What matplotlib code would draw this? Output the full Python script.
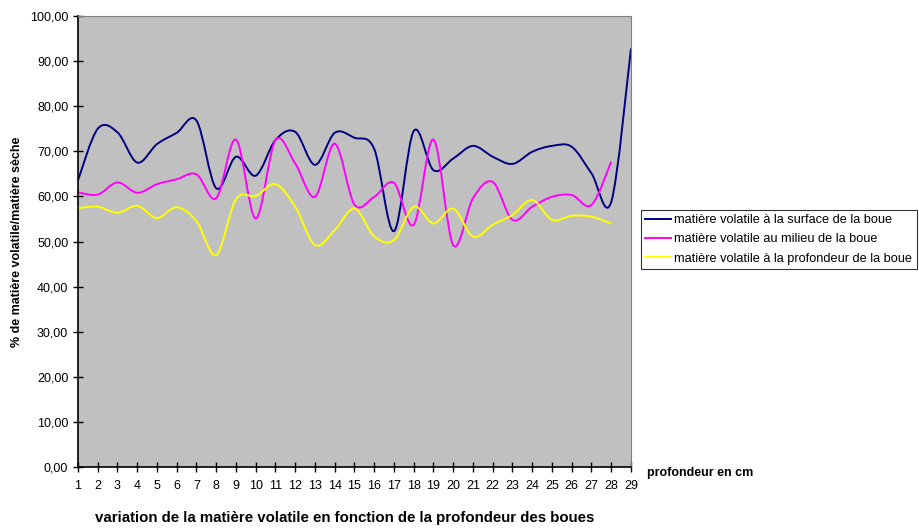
import numpy as np
import matplotlib.pyplot as plt
from matplotlib.path import Path
from matplotlib.patches import PathPatch
from matplotlib.lines import Line2D

plt.rcParams['font.family'] = ['Liberation Sans', 'DejaVu Sans']

profondeur = list(range(1, 30))
surface = [63.6, 75.0, 74.2, 67.5, 71.6, 74.1, 76.8, 61.8, 68.8, 64.6, 72.5, 74.3, 67.0, 74.1, 73.0,
           70.5, 52.3, 74.5, 65.8, 68.4, 71.2, 68.8, 67.2, 69.9, 71.2, 71.0, 65.1, 58.8, 92.8]
milieu = [60.9, 60.4, 63.1, 60.8, 62.7, 63.8, 64.9, 59.6, 72.6, 55.1, 72.5, 67.3, 59.9, 71.7, 58.2,
          59.9, 63.0, 53.7, 72.6, 49.2, 59.6, 63.2, 54.8, 57.7, 59.9, 60.3, 58.1, 67.7]
fond = [57.4, 57.7, 56.4, 57.9, 55.2, 57.6, 54.5, 47.0, 59.4, 60.1, 62.7, 57.7, 49.2, 52.5, 57.3,
        51.1, 50.3, 57.7, 54.0, 57.3, 51.1, 53.7, 55.9, 59.2, 54.8, 55.7, 55.5, 54.0]

series = [
    ("matière volatile à la surface de la boue", surface, "#000080"),
    ("matière volatile au milieu de la boue", milieu, "#FF00FF"),
    ("matière volatile à la profondeur de la boue", fond, "#FFFF00"),
]


def courbe_lisse(x, y):
    # courbe de Bezier type "lissage" Excel (Catmull-Rom)
    pts = np.column_stack([x, y]).astype(float)
    verts = [pts[0]]
    codes = [Path.MOVETO]
    n = len(pts)
    for i in range(n - 1):
        p0 = pts[i - 1] if i > 0 else pts[i]
        p1 = pts[i]
        p2 = pts[i + 1]
        p3 = pts[i + 2] if i + 2 < n else pts[i + 1]
        c1 = p1 + (p2 - p0) / 6.0
        c2 = p2 - (p3 - p1) / 6.0
        verts += [c1, c2, p2]
        codes += [Path.CURVE4] * 3
    return Path(verts, codes)


fig = plt.figure(figsize=(9.2, 5.3), dpi=100)
ax = fig.add_axes([78 / 920, 1 - 467 / 530, 553 / 920, 451 / 530])
ax.set_facecolor("#C0C0C0")

handles = []
for nom, vals, col in series:
    x = profondeur[:len(vals)]
    patch = PathPatch(courbe_lisse(x, vals), facecolor="none", edgecolor=col, lw=1.4)
    ax.add_patch(patch)
    handles.append(Line2D([0], [0], color=col, lw=1.4, label=nom))

ax.set_xlim(1, 29)
ax.set_ylim(0, 100)
ax.set_xticks(profondeur)
ax.set_yticks(np.arange(0, 101, 10))
ax.set_yticklabels(["%d,00" % v for v in range(0, 101, 10)])
ax.tick_params(axis="both", direction="inout", length=7, width=1, labelsize=9, colors="black")
ax.tick_params(axis="x", pad=6)

for s in ["top", "right"]:
    ax.spines[s].set_color("#808080")
for s in ["left", "bottom"]:
    ax.spines[s].set_color("black")
    ax.spines[s].set_linewidth(1.2)

ax.set_ylabel("% de matière volatile/matière sèche", fontsize=9, fontweight="bold", labelpad=5)
fig.text(647 / 920, 1 - 473 / 530, "profondeur en cm", fontsize=9, fontweight="bold", va="center")
fig.text(345 / 920, 1 - 518 / 530, "variation de la matière volatile en fonction de la profondeur des boues",
         fontsize=10.8, fontweight="bold", ha="center", va="center")

leg = fig.legend(handles=handles, loc="upper left", bbox_to_anchor=(641 / 920, 1 - 210 / 530),
                 fontsize=9.2, frameon=True, fancybox=False, edgecolor="black",
                 handlelength=2.0, handletextpad=0.25, borderpad=0.35, labelspacing=0.55,
                 borderaxespad=0)
leg.get_frame().set_linewidth(0.8)

fig.savefig("out.png", dpi=100)
